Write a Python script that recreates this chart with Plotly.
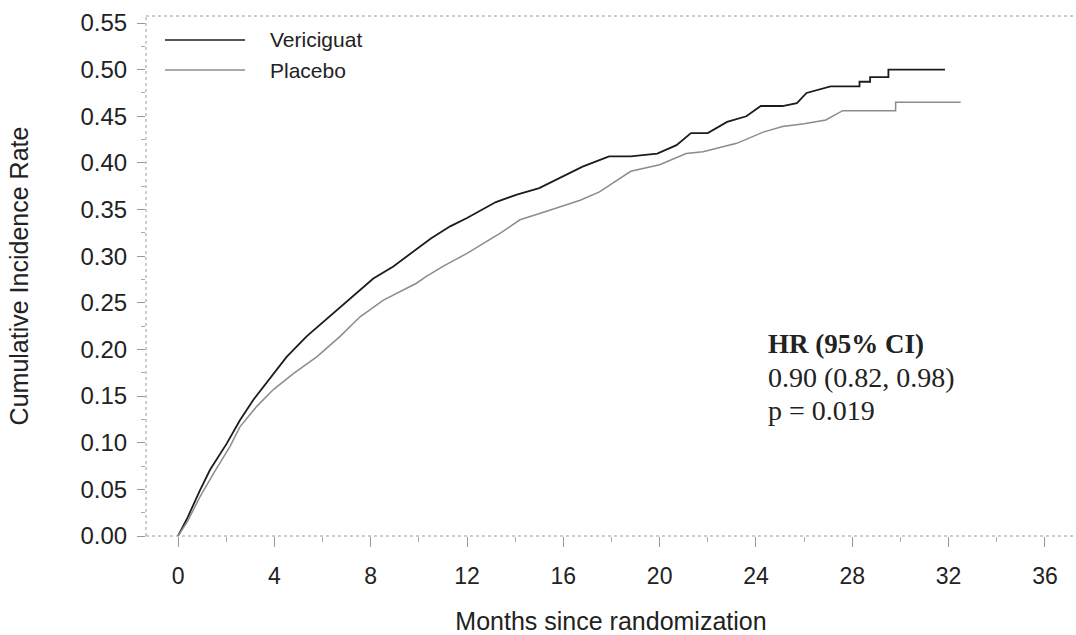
import plotly.graph_objects as go

# ---- data ----
veri_x = [0, 0.4, 0.91, 1.33, 2.02, 2.57, 3.13, 3.96, 4.51, 5.34, 6.45, 7.28, 8.11, 8.94, 9.2, 9.9,
          10.5, 11.3, 12.0, 13.2, 14.07, 15.0, 15.4, 16.1, 16.8, 17.5, 17.9, 18.8, 19.9, 20.7, 21.3,
          22.0, 22.8, 23.6, 24.2, 25.1, 25.7, 26.1, 27.1, 28.3, 28.3, 28.74, 28.74, 29.5, 29.5, 31.85]
veri_y = [0, 0.020, 0.049, 0.071, 0.099, 0.124, 0.146, 0.174, 0.192, 0.214, 0.239, 0.257, 0.276, 0.289,
          0.294, 0.307, 0.319, 0.332, 0.341, 0.358, 0.366, 0.373, 0.378, 0.387, 0.396, 0.403, 0.407,
          0.407, 0.410, 0.419, 0.432, 0.432, 0.444, 0.450, 0.461, 0.461, 0.464, 0.475, 0.482, 0.482,
          0.487, 0.487, 0.492, 0.492, 0.500, 0.500]

plac_x = [0, 0.4, 0.91, 1.47, 2.16, 2.57, 3.27, 3.96, 4.79, 5.76, 6.73, 7.56, 8.53, 9.9, 10.3, 11.0,
          12.0, 13.4, 14.2, 15.0, 15.4, 16.7, 17.5, 18.8, 20.0, 21.1, 21.8, 23.2, 24.3, 25.1, 26.0,
          26.9, 27.6, 29.8, 29.8, 32.5]
plac_y = [0, 0.016, 0.042, 0.067, 0.096, 0.117, 0.139, 0.157, 0.174, 0.192, 0.214, 0.235, 0.253, 0.271,
          0.278, 0.289, 0.303, 0.325, 0.339, 0.346, 0.349, 0.360, 0.369, 0.391, 0.398, 0.410, 0.412,
          0.421, 0.433, 0.439, 0.442, 0.446, 0.456, 0.456, 0.465, 0.465]

series_names = ["Vericiguat", "Placebo"]
x_ticks = [0, 4, 8, 12, 16, 20, 24, 28, 32, 36]
y_ticks = [0.00, 0.05, 0.10, 0.15, 0.20, 0.25, 0.30, 0.35, 0.40, 0.45, 0.50, 0.55]
hr_lines = ["HR (95% CI)", "0.90 (0.82, 0.98)", "p = 0.019"]

SANS = "Liberation Sans, Arial, sans-serif"
SERIF = "Liberation Serif, Times New Roman, serif"
BLACK = "#1c1c1c"
GREY = "#8c8c8c"

fig = go.Figure()
fig.add_trace(go.Scatter(x=veri_x, y=veri_y, mode="lines", name=series_names[0],
                         line=dict(color=BLACK, width=1.8), showlegend=False))
fig.add_trace(go.Scatter(x=plac_x, y=plac_y, mode="lines", name=series_names[1],
                         line=dict(color=GREY, width=1.5), showlegend=False))

# frame lines (dotted grey)
frame = dict(color="#9a9a9a", width=1, dash="dot")
fig.add_shape(type="line", xref="paper", yref="paper", x0=0, x1=0, y0=0, y1=1, line=frame)
fig.add_shape(type="line", xref="paper", yref="paper", x0=0, x1=1, y0=1, y1=1, line=frame)
fig.add_shape(type="line", xref="paper", yref="paper", x0=0, x1=1, y0=0, y1=0, line=frame)

# custom legend (long line samples)
leg_y = [0.954, 0.896]
leg_col = [BLACK, GREY]
for name, yy, col in zip(series_names, leg_y, leg_col):
    fig.add_shape(type="line", xref="paper", yref="paper", x0=0.0204, x1=0.1065, y0=yy, y1=yy,
                  line=dict(color=col, width=1.5))
    fig.add_annotation(xref="paper", yref="paper", x=0.131, y=yy, text=name, showarrow=False,
                       xanchor="left", yanchor="middle",
                       font=dict(family=SANS, size=21, color="#222"))

# HR annotation
hr_y = [0.369, 0.304, 0.242]
hr_size = [27, 28, 28]
for i, (t, yy, sz) in enumerate(zip(hr_lines, hr_y, hr_size)):
    fig.add_annotation(xref="paper", yref="paper", x=0.667, y=yy,
                       text=("<b>%s</b>" % t) if i == 0 else t, showarrow=False,
                       xanchor="left", yanchor="middle",
                       font=dict(family=SERIF, size=sz, color="#222"))

fig.update_layout(
    width=1076, height=635,
    margin=dict(l=146, r=0, t=16, b=99),
    paper_bgcolor="white", plot_bgcolor="white",
    showlegend=False,
    xaxis=dict(range=[-1.33, 37.29], tickvals=x_ticks, ticktext=[str(v) for v in x_ticks],
               automargin=False,
               showgrid=False, zeroline=False, showline=False,
               ticks="outside", ticklen=10, tickcolor="#999", tickwidth=1,
               ticklabelstandoff=9,
               minor=dict(dtick=2, tick0=0, ticks="outside", ticklen=5, tickcolor="#aaa"),
               tickfont=dict(family=SANS, size=23, color="#222"),
               title=dict(text="Months since randomization", font=dict(family=SANS, size=25, color="#222"),
                          standoff=24)),
    yaxis=dict(range=[0, 0.5575], tickvals=y_ticks, ticktext=["%.2f" % v for v in y_ticks],
               automargin=False,
               showgrid=False, zeroline=False, showline=False,
               ticks="outside", ticklen=8, tickcolor="#999", tickwidth=1,
               ticklabelstandoff=5,
               minor=dict(dtick=0.025, tick0=0, ticks="outside", ticklen=4, tickcolor="#aaa"),
               tickfont=dict(family=SANS, size=24, color="#222"),
               title=dict(text="Cumulative Incidence Rate", font=dict(family=SANS, size=25, color="#222"),
                          standoff=44)),
)

fig.write_html("out.html", config={"displayModeBar": False},
               post_script="document.body.style.margin='0';document.body.style.overflow='hidden';")
